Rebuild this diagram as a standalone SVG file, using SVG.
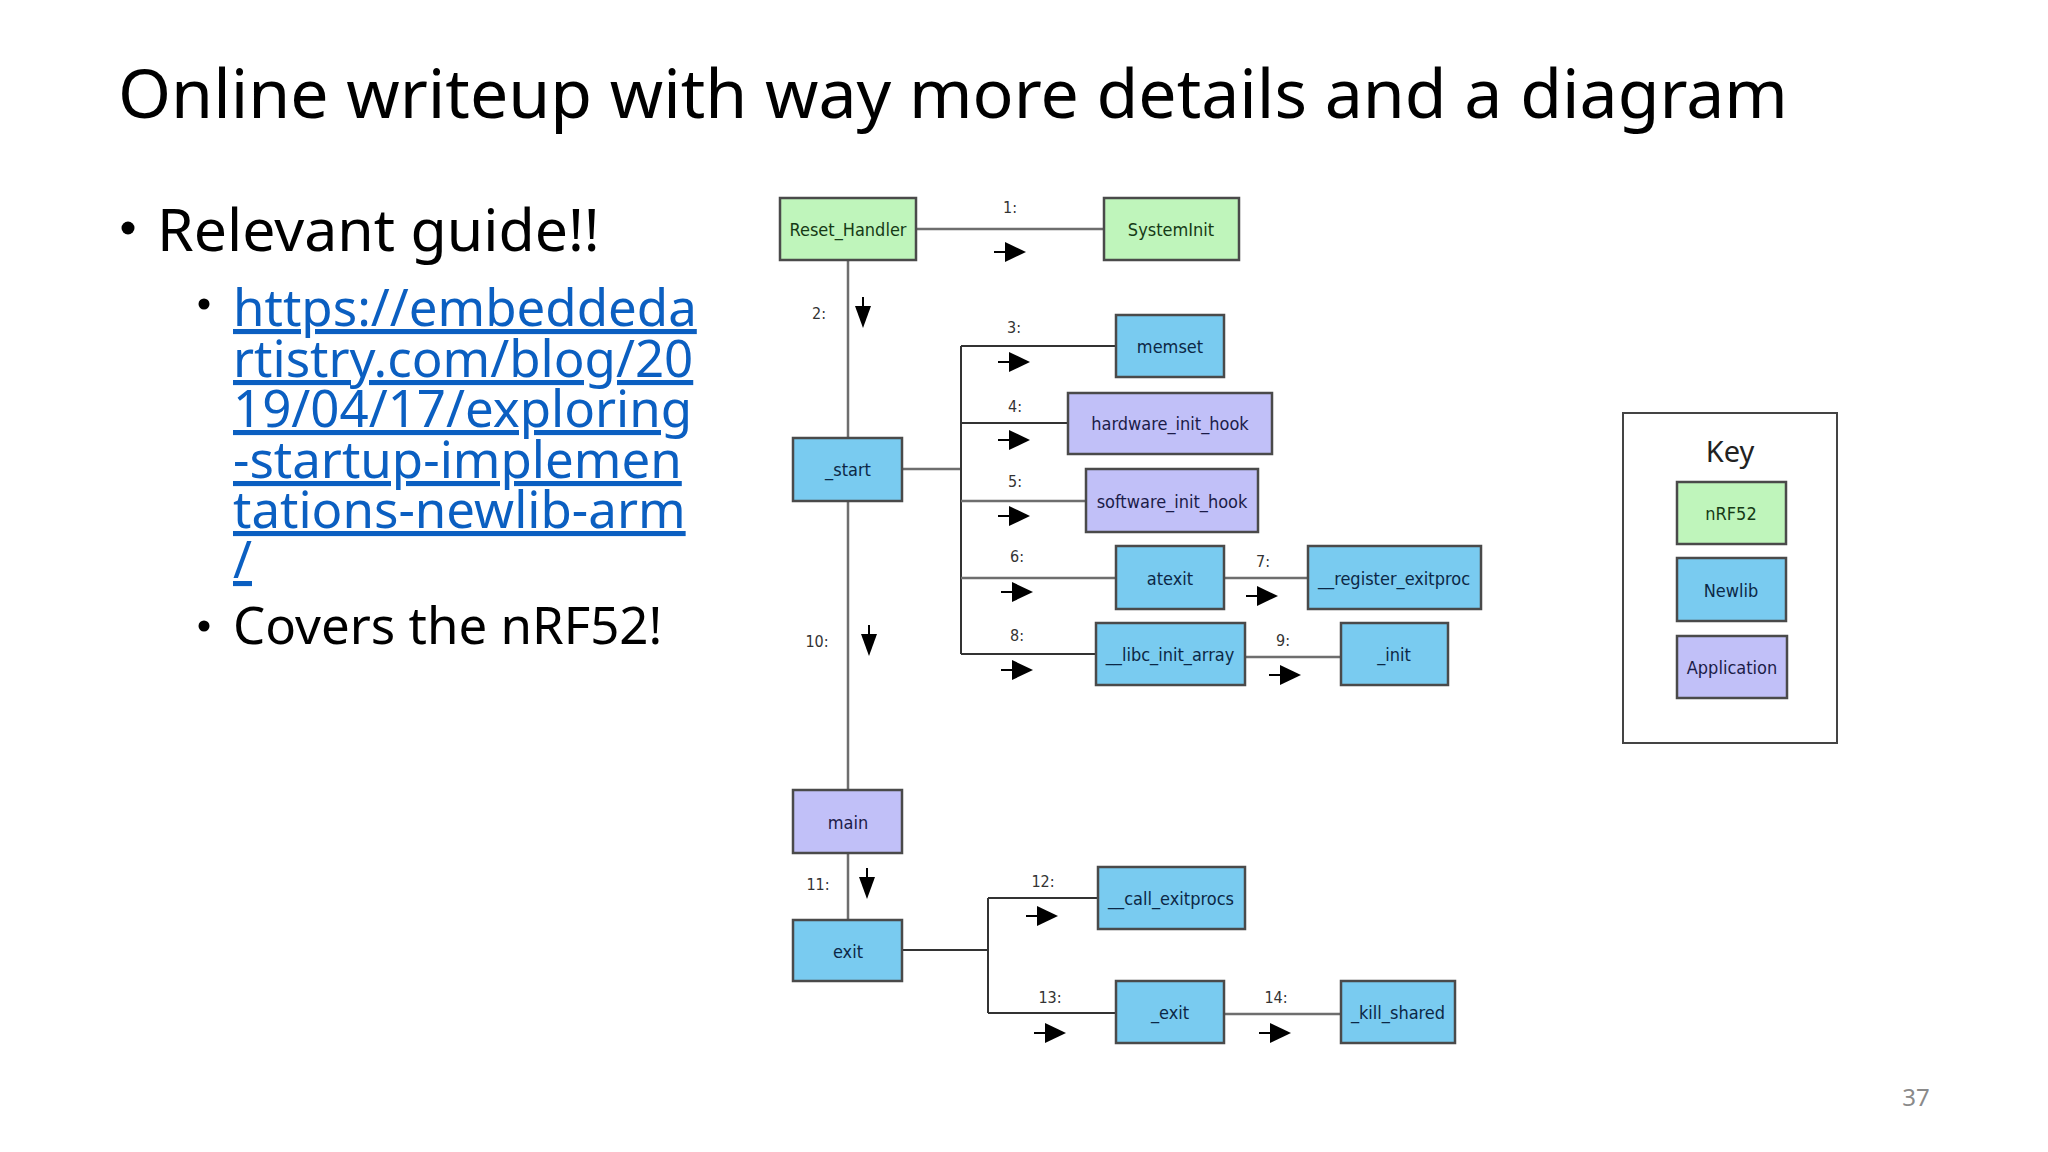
<svg xmlns="http://www.w3.org/2000/svg" width="2048" height="1152" viewBox="0 0 2048 1152">
<style>
.title{font-family:"Noto Sans","Open Sans",sans-serif;font-size:68px;fill:#000}
.b1{font-family:"Noto Sans","Open Sans",sans-serif;font-size:59px;fill:#000}
.b2{font-family:"Noto Sans","Open Sans",sans-serif;font-size:51px;fill:#000}
.url{font-family:"Noto Sans","Open Sans",sans-serif;font-size:51px;fill:#0b5fc1;text-decoration:underline}
.pg{font-family:"Noto Sans","Open Sans",sans-serif;font-size:24px;fill:#8a8a8a}
.box{stroke:#4a4a4a;stroke-width:2.5}
.g{fill:#bff5bb}
.bl{fill:#79cbf0}
.pu{fill:#c1c0f8}
.nt{font-family:"DejaVu Sans Condensed","DejaVu Sans",sans-serif;font-size:18px;text-anchor:middle;dominant-baseline:central}
.tg{fill:#163a16}
.tb{fill:#0c2846}
.tp{fill:#1c1c48}
.num{font-family:"DejaVu Sans Condensed","DejaVu Sans",sans-serif;font-size:16px;fill:#333;text-anchor:middle;dominant-baseline:central}
.ln{fill:none;stroke:#6e6e6e;stroke-width:2.5}
.dk{fill:none;stroke:#333;stroke-width:2}
.keybox{fill:#fff;stroke:#444;stroke-width:2}
.key{font-family:"Noto Sans","Open Sans",sans-serif;font-size:29px;fill:#222;text-anchor:middle}
</style>
<defs>
<g id="ra"><path d="M0,0 H12" stroke="#000" stroke-width="2"/><path d="M11,-10 L32,0 L11,10 Z" fill="#000"/></g>
<g id="da"><path d="M0,0 V10" stroke="#000" stroke-width="2"/><path d="M-8,9 L0,31 L8,9 Z" fill="#000"/></g>
</defs>
<rect width="2048" height="1152" fill="#fff"/>

<text class="title" x="118" y="118">Online writeup with way more details and a diagram</text>
<circle cx="128" cy="228" r="6.5" fill="#000"/>
<text class="b1" x="157" y="251">Relevant guide!!</text>
<circle cx="204" cy="304" r="5.5" fill="#000"/>
<text class="url" x="233"><tspan x="233" y="326">https://embeddeda</tspan><tspan x="233" y="377">rtistry.com/blog/20</tspan><tspan x="233" y="427">19/04/17/exploring</tspan><tspan x="233" y="478">-startup-implemen</tspan><tspan x="233" y="528">tations-newlib-arm</tspan><tspan x="233" y="578">/</tspan></text>
<circle cx="204" cy="626" r="5.5" fill="#000"/>
<text class="b2" x="233" y="644">Covers the nRF52!</text>
<text class="pg" x="1916" y="1106" text-anchor="middle">37</text>

<g id="connectors">
<path class="ln" d="M916,229 H1104"/>
<path class="ln" d="M848,260 V438 M848,501 V790 M848,853 V920"/>
<path class="ln" d="M902,469 H961"/>
<path class="dk" d="M961,346 V654"/>
<path class="dk" d="M961,346 H1116 M961,423 H1068"/>
<path class="ln" d="M961,501 H1086 M961,578 H1116 M1224,578 H1308"/>
<path class="dk" d="M961,654 H1096"/>
<path class="ln" d="M1245,657 H1341"/>
<path class="dk" d="M902,950 H988 M988,898 V1013 M988,898 H1098 M988,1013 H1116"/>
<path class="ln" d="M1224,1014 H1341"/>
<use href="#ra" x="994" y="252"/>
<use href="#ra" x="998" y="362"/>
<use href="#ra" x="998" y="440"/>
<use href="#ra" x="998" y="516"/>
<use href="#ra" x="1001" y="592"/>
<use href="#ra" x="1246" y="596"/>
<use href="#ra" x="1001" y="670"/>
<use href="#ra" x="1269" y="675"/>
<use href="#ra" x="1026" y="916"/>
<use href="#ra" x="1034" y="1033"/>
<use href="#ra" x="1259" y="1033"/>
<use href="#da" x="863" y="297"/>
<use href="#da" x="869" y="625"/>
<use href="#da" x="867" y="868"/>
<text class="num" x="1010" y="207">1:</text>
<text class="num" x="819" y="313">2:</text>
<text class="num" x="1014" y="327">3:</text>
<text class="num" x="1015" y="406">4:</text>
<text class="num" x="1015" y="481">5:</text>
<text class="num" x="1017" y="556">6:</text>
<text class="num" x="1263" y="561">7:</text>
<text class="num" x="1017" y="635">8:</text>
<text class="num" x="1283" y="640">9:</text>
<text class="num" x="817" y="641">10:</text>
<text class="num" x="818" y="884">11:</text>
<text class="num" x="1043" y="881">12:</text>
<text class="num" x="1050" y="997">13:</text>
<text class="num" x="1276" y="997">14:</text>
</g>

<g id="reset_handler"><rect class="box g" x="780" y="198" width="136" height="62"/><text class="nt tg" x="848" y="229">Reset_Handler</text></g>
<g id="systeminit"><rect class="box g" x="1104" y="198" width="135" height="62"/><text class="nt tg" x="1171" y="229">SystemInit</text></g>
<g id="start"><rect class="box bl" x="793" y="438" width="109" height="63"/><text class="nt tb" x="848" y="469">_start</text></g>
<g id="memset"><rect class="box bl" x="1116" y="315" width="108" height="62"/><text class="nt tb" x="1170" y="346">memset</text></g>
<g id="hardware_init_hook"><rect class="box pu" x="1068" y="393" width="204" height="61"/><text class="nt tp" x="1170" y="423">hardware_init_hook</text></g>
<g id="software_init_hook"><rect class="box pu" x="1086" y="469" width="172" height="63"/><text class="nt tp" x="1172" y="501">software_init_hook</text></g>
<g id="atexit"><rect class="box bl" x="1116" y="546" width="108" height="63"/><text class="nt tb" x="1170" y="578">atexit</text></g>
<g id="register_exitproc"><rect class="box bl" x="1308" y="546" width="173" height="63"/><text class="nt tb" x="1394" y="578">__register_exitproc</text></g>
<g id="libc_init_array"><rect class="box bl" x="1096" y="623" width="149" height="62"/><text class="nt tb" x="1170" y="654">__libc_init_array</text></g>
<g id="init"><rect class="box bl" x="1341" y="623" width="107" height="62"/><text class="nt tb" x="1394" y="654">_init</text></g>
<g id="main"><rect class="box pu" x="793" y="790" width="109" height="63"/><text class="nt tp" x="848" y="822">main</text></g>
<g id="exit"><rect class="box bl" x="793" y="920" width="109" height="61"/><text class="nt tb" x="848" y="951">exit</text></g>
<g id="call_exitprocs"><rect class="box bl" x="1098" y="867" width="147" height="62"/><text class="nt tb" x="1171" y="898">__call_exitprocs</text></g>
<g id="_exit"><rect class="box bl" x="1116" y="981" width="108" height="62"/><text class="nt tb" x="1170" y="1012">_exit</text></g>
<g id="kill_shared"><rect class="box bl" x="1341" y="981" width="114" height="62"/><text class="nt tb" x="1398" y="1012">_kill_shared</text></g>

<g id="key">
<rect class="keybox" x="1623" y="413" width="214" height="330"/>
<text class="key" x="1730" y="462">Key</text>
<g id="key_nrf52"><rect class="box g" x="1677" y="482" width="109" height="62"/><text class="nt tg" x="1731" y="513">nRF52</text></g>
<g id="key_newlib"><rect class="box bl" x="1677" y="558" width="109" height="63"/><text class="nt tb" x="1731" y="590">Newlib</text></g>
<g id="key_application"><rect class="box pu" x="1677" y="636" width="110" height="62"/><text class="nt tp" x="1732" y="667">Application</text></g>
</g>
</svg>
